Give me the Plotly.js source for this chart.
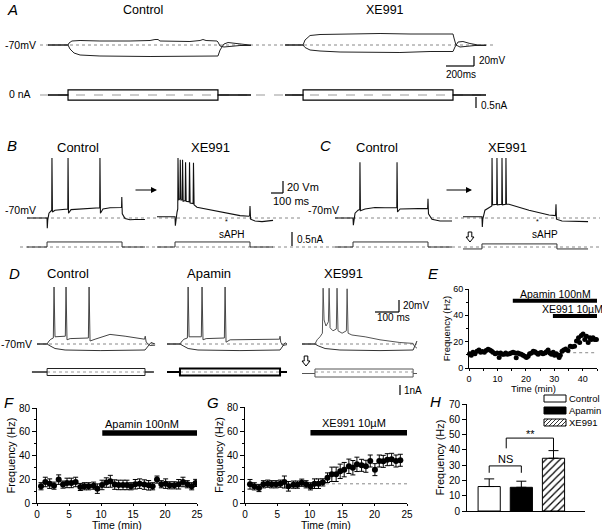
<!DOCTYPE html>
<html><head><meta charset="utf-8">
<script src="https://cdn.plot.ly/plotly-3.0.1.min.js"></script>
<style>html,body{margin:0;padding:0;background:#fff}#chart{width:602px;height:530px}</style>
</head><body><div id="chart"></div>
<script>
// ---------------- DATA ----------------
// Panel A (time in ms from sweep start, membrane potential in mV, current in nA)
const aCtrlUpT = [0,143,150,171,229,371,586,729,764,786,800,1014,1086,1107,1129,1207,1214,1229,1257,1300,1371,1450];
const aCtrlUpV = [-70,-70,-66,-62,-61,-62,-62,-61,-59,-59,-62,-63,-61,-59,-61,-62,-64,-72,-74,-73,-71,-71];
const aCtrlDnT = [0,143,157,186,229,371,729,1086,1214,1229,1257,1286,1336,1407,1450];
const aCtrlDnV = [-70,-70,-78,-86,-90,-92,-93,-93,-92,-80,-68,-65,-67,-69,-70];
const aXeUpT = [0,129,143,179,250,464,607,679,893,1200,1207,1221,1250,1293,1357,1436];
const aXeUpV = [-70,-70,-60,-51,-49,-48,-46,-47,-48,-48,-56,-70,-74,-73,-71,-71];
const aXeDnT = [0,129,143,179,250,393,821,1036,1200,1214,1236,1271,1321,1379,1436];
const aXeDnV = [-70,-70,-75,-80,-82,-84,-85,-83,-83,-74,-64,-63,-67,-70,-70];
const aCtrlIT = [0,143,143,1214,1214,1450];
const aXeIT = [0,129,129,1200,1200,1436];
const aIPos = [0,0,0.23,0.23,0,0];
const aINeg = [0,0,-0.23,-0.23,0,0];

// Panel B
const bCtrlT = [0,167,169,173,183,200,206,208,212,233,333,340,342,346,367,483,600,606,608,612,633,692,783,788,790,794,817,858,900,983];
const bCtrlV = [-70,-70,-87,-73,-62,-57.5,-57,30,-60,-57,-55,-55,30,-62,-56,-54,-53,-53,30,-62,-55,-53,-52.5,-52,-35,-63,-71,-73,-72.5,-72.5];
const bXeT = [0,150,153,157,167,173,175,180,191,194,199,210,213,218,235,238,243,268,271,276,301,304,309,333,358,442,525,608,692,767,772,775,780,817,875,967];
const bXeV = [-68,-68,-83,-72,-60,-55,30,-40,-38,27,-40,-40,27,-42,-41,23,-42,-43,23,-45,-46,22,-48,-52,-53,-56,-60,-63,-66,-67,-66,-50,-72,-75,-76,-74];
const bCtrlIT = [0,167,167,792,792,983];
const bXeIT = [0,150,150,775,775,967];
const bcIStep = [0,0,0.18,0.18,0,0];

// Panel C
const cCtrlT = [0,150,153,157,167,192,206,208,212,250,333,417,515,517,521,542,625,767,772,775,779,808,875,975];
const cCtrlV = [-70,-70,-82,-72,-62,-57,-56,23,-58,-55,-52.5,-53,-53,23,-60,-55,-55,-54,-54,-38,-63,-72,-75,-75];
const cXeT = [0,158,161,165,183,225,240,242,246,281,283,287,323,325,329,356,358,362,383,550,717,771,775,779,825,933,1042];
const cXeV = [-68,-68,-85,-72,-57,-52,-50,30,-48,-47,30,-48,-47,30,-48,-47,30,-47,-47,-57,-65,-66,-47,-72,-75,-75,-76];
const cCtrlIT = [0,150,150,775,775,975];
const cXeIT = [0,158,158,783,783,1042];
const cXeIV = [-0.07,-0.07,0.11,0.11,-0.07,-0.07];

// Panel D
const dCtrlUpT = [0,42,50,58,68,71,75,96,118,121,125,138,214,217,221,242,304,367,429,448,451,455,471,492];
const dCtrlUpV = [-70,-70,-65,-62,-60,25,-58,-57.5,-57,25,-63,-61,-60,25,-65,-62,-54,-57,-61,-62,-57,-67,-72.5,-72];
const dCtrlDnT = [0,42,54,75,117,263,450,467,475,492];
const dCtrlDnV = [-70,-70,-73,-77.5,-80,-81,-80,-72,-67.5,-70];
const dApaUpT = [0,54,63,71,85,88,92,117,143,146,150,163,239,242,246,263,346,469,471,474,483,500];
const dApaUpV = [-70,-70,-65,-62,-60,25,-58,-58,-58,25,-63,-61,-60,25,-67,-63,-62.5,-62,-57,-67,-72.5,-71];
const dApaDnT = [0,54,67,88,129,304,471,483,492,500];
const dApaDnV = [-70,-70,-73,-77.5,-80,-81,-80,-72,-68,-70];
const dXeUpT = [0,54,63,75,85,88,92,100,110,113,117,129,143,146,150,167,185,188,192,208,263,325,408,463,467,479];
const dXeUpV = [-70,-70,-63,-58,-52,23,-30,-40,-33,23,-43,-48,-45,23,-48,-52,-48,22,-52,-55,-58,-63,-67.5,-69,-73,-77];
const dXeDnT = [0,54,67,96,158,325,463,471,479];
const dXeDnV = [-70,-70,-73,-77.5,-80,-81,-80,-72,-65];
const dCtrlIT = [-21,42,42,450,450,487];
const dApaIT = [0,54,54,471,471,500];
const dXeIT = [0,54,54,463,463,479];
const dIPos = [0,0,0.35,0.35,0,0];
const dINeg = [0,0,-0.35,-0.35,0,0];
const dXeIPos = [-0.15,-0.15,0.3,0.3,-0.15,-0.15];
const dXeINeg = [-0.15,-0.15,-0.5,-0.5,-0.15,-0.15];

// Panel E (time in min, firing frequency in Hz)
const eTime = [0.2,0.8,1.4,2.1,2.8,3.5,4.1,4.7,5.4,6.0,6.7,7.3,7.9,8.4,9.2,9.9,10.6,11.1,11.7,12.3,12.9,13.5,14.2,14.8,15.5,16.2,16.6,17.2,17.8,18.4,19.0,19.6,20.2,20.8,21.3,22.0,22.6,23.2,23.7,24.3,24.9,25.4,26.0,26.7,27.2,27.8,28.4,29.0,29.6,30.1,30.7,31.3,31.7,32.1,32.7,33.3,34.0,34.8,35.6,36.3,37.1,37.8,38.5,38.9,39.5,40.1,40.7,41.3,41.9,42.5,43.0,43.6,44.2,44.8];
const eFreq = [10.8,9.6,12,10.8,12.8,13.7,12,12.5,12,13.3,14.2,13.7,13,12,10.8,11.3,8,11.3,10.4,10.4,11.3,10.4,10.8,11.3,12,11.3,7.7,11.3,10.8,10.4,9.6,8.9,8,8.9,10.8,11.3,12.8,12.3,11.3,10.4,11.3,11.8,10.8,11.3,12.3,13.7,11.3,10.4,12,9.6,10.8,9.6,8,9.6,12.8,13.7,14.5,13.3,16.6,16.1,16.6,20.5,22.9,19.3,24.6,25.8,21.7,24.1,19.3,22.9,21.7,22.9,21.7,21.7];
const eApaT = [15.4,45], eApaY = [51,51];
const eXeT = [29.5,45], eXeY = [39.5,39.5];
const eBaseT = [32.4,45], eBaseY = [11.6,11.6];

// Panel F
const fTime = [0.63,1.30,1.98,2.66,3.39,4.06,4.69,5.36,6.04,6.77,7.40,8.07,8.85,9.43,10.16,10.83,11.46,12.14,12.76,13.44,14.06,14.69,15.36,16.04,16.77,17.45,18.07,18.75,19.43,20.10,20.73,21.46,22.14,22.81,23.49,24.17,24.79];
const fFreq = [14.1,17.7,16.3,14.6,19.7,15.5,16.9,16.9,17.7,13.5,14.1,14.1,14.6,12.1,15.2,17.2,18.3,15.5,15.2,15.2,15.2,14.1,15.8,16.3,15.5,14.9,14.1,19.7,15.8,16.3,14.9,14.9,15.8,17.7,15.8,14.1,16.9];
const fErr = [3,4,4,3,4,3,4,4,4,3,3,3,3,4,4,4,5,4,4,4,4,3,4,4,4,4,3,3,3,4,3,3,4,4,3,3,3];
const fApaT = [10.2,25], fApaY = [59,59];

// Panel G
const gTime = [0.77,1.44,2.16,2.84,3.51,4.12,4.79,5.46,6.08,6.70,7.47,8.09,8.76,9.43,10.10,10.72,11.34,12.01,12.73,13.40,14.07,14.69,15.31,16.03,16.65,17.27,17.99,18.66,19.33,20.05,20.72,21.34,21.96,22.63,23.30,23.97];
const gFreq = [15.6,13.9,12.5,15.6,16.1,15.6,15.6,16.1,17.5,13.9,15.3,15.3,16.9,15.6,13.9,16.1,16.1,17.2,21.1,23.9,23.9,26.4,27.8,30.6,29.4,32.2,31.4,30.6,35,27.8,35,34.7,36.1,36.4,35,35.6];
const gErr = [4,3,3,3,3,3,3,3,5,4,3,3,3,3,3,4,4,3,4,6,6,6,6,6,6,6,5,5,5,5,5,5,5,5,5,5];
const gXeT = [10.1,25], gXeY = [58.5,58.5];
const gBaseT = [12.5,25], gBaseY = [16,16];

// Panel H
const hGroups = ['Control','Apamin','XE991'];
const hMean = [16,15.5,34.5];
const hErr = [5,4,5];
const hNsX = [0,0,1,1], hNsY = [25,29.5,29.5,25];
const hStarX = [0.53,0.53,2,2], hStarY = [41,47.7,47.7,39.5];

// ---------------- LAYOUT HELPERS ----------------
const W = 602, H = 530;
const FONT = 'Liberation Sans, Arial, Helvetica, sans-serif';
const X = p => p / W, Y = p => 1 - p / H;
function colX(x0, s, a, b) { return {domain:[X(a),X(b)], range:[(a-x0)/s,(b-x0)/s], visible:false, fixedrange:true, anchor:'free', position:0}; }
function rowY(y0, base, s, top, bot) { return {domain:[Y(bot),Y(top)], range:[base-(bot-y0)/s, base+(y0-top)/s], visible:false, fixedrange:true, anchor:'free', position:0}; }

const traces = [];
function line(x, y, xa, ya, color, width, extra) {
  traces.push(Object.assign({type:'scatter', mode:'lines', x:x, y:y, xaxis:xa, yaxis:ya,
    line:{color:color, width:width}, hoverinfo:'skip', showlegend:false}, extra||{}));
}
const TR = '#111';
// A
line(aCtrlUpT, aCtrlUpV, 'x', 'y', '#222', 1);
line(aCtrlDnT, aCtrlDnV, 'x', 'y', '#222', 1);
line(aXeUpT, aXeUpV, 'x2', 'y', '#222', 1);
line(aXeDnT, aXeDnV, 'x2', 'y', '#222', 1);
line(aCtrlIT, aIPos, 'x', 'y2', '#000', 1.2);
line(aCtrlIT, aINeg, 'x', 'y2', '#000', 1.2);
line(aXeIT, aIPos, 'x2', 'y2', '#000', 1.2);
line(aXeIT, aINeg, 'x2', 'y2', '#000', 1.2);
// B
line(bCtrlT, bCtrlV, 'x3', 'y3', TR, 1.1);
line(bXeT, bXeV, 'x4', 'y3', TR, 1.1);
line(bCtrlIT, bcIStep, 'x3', 'y4', '#333', 1);
line(bXeIT, bcIStep, 'x4', 'y4', '#333', 1);
// C
line(cCtrlT, cCtrlV, 'x5', 'y3', TR, 1.1);
line(cXeT, cXeV, 'x6', 'y3', TR, 1.1);
line(cCtrlIT, bcIStep, 'x5', 'y4', '#333', 1);
line(cXeIT, cXeIV, 'x6', 'y4', '#333', 1);
// D
line(dCtrlUpT, dCtrlUpV, 'x7', 'y5', '#444', 1);
line(dCtrlDnT, dCtrlDnV, 'x7', 'y5', '#333', 1);
line(dApaUpT, dApaUpV, 'x8', 'y5', '#444', 1);
line(dApaDnT, dApaDnV, 'x8', 'y5', '#333', 1);
line(dXeUpT, dXeUpV, 'x9', 'y5', '#555', 1);
line(dXeDnT, dXeDnV, 'x9', 'y5', '#333', 1);
line(dCtrlIT, dIPos, 'x7', 'y6', '#222', 1);
line(dCtrlIT, dINeg, 'x7', 'y6', '#222', 1);
line(dApaIT, dIPos, 'x8', 'y6', '#000', 2);
line(dApaIT, dINeg, 'x8', 'y6', '#000', 2);
line(dXeIT, dXeIPos, 'x9', 'y6', '#555', 1);
line(dXeIT, dXeINeg, 'x9', 'y6', '#555', 1);
// E
line(eBaseT, eBaseY, 'x10', 'y7', '#888', 1, {line:{color:'#888', width:1, dash:'dot'}});
line(eApaT, eApaY, 'x10', 'y7', '#000', 4);
line(eXeT, eXeY, 'x10', 'y7', '#000', 4);
traces.push({type:'scatter', mode:'markers', x:eTime, y:eFreq, xaxis:'x10', yaxis:'y7',
  marker:{color:'#000', size:5}, hoverinfo:'skip', showlegend:false, cliponaxis:false});
// F
line(fApaT, fApaY, 'x11', 'y8', '#000', 5.5);
traces.push({type:'scatter', mode:'markers', x:fTime, y:fFreq, xaxis:'x11', yaxis:'y8',
  marker:{color:'#000', size:6}, error_y:{type:'data', array:fErr, visible:true, color:'#000', thickness:1, width:2.5},
  hoverinfo:'skip', showlegend:false});
// G
line(gBaseT, gBaseY, 'x12', 'y9', '#888', 1, {line:{color:'#888', width:1, dash:'dot'}});
line(gXeT, gXeY, 'x12', 'y9', '#000', 5.5);
traces.push({type:'scatter', mode:'markers', x:gTime, y:gFreq, xaxis:'x12', yaxis:'y9',
  marker:{color:'#000', size:6}, error_y:{type:'data', array:gErr, visible:true, color:'#000', thickness:1, width:2.5},
  hoverinfo:'skip', showlegend:false});
// H
const hColors = ['#fff','#000','#fff'];
hGroups.forEach((g, i) => {
  const mk = {color:hColors[i], line:{color:'#000', width:1}};
  if (i === 2) mk.pattern = {shape:'/', fgcolor:'#000', bgcolor:'#fff', size:5, solidity:0.25};
  traces.push({type:'bar', x:[i], y:[hMean[i]], name:g, xaxis:'x13', yaxis:'y10', width:0.69,
    marker:mk, error_y:{type:'data', symmetric:false, array:[hErr[i]], arrayminus:[0], visible:true, color:'#000', thickness:1, width:5},
    hoverinfo:'skip', showlegend:false});
});
line(hNsX, hNsY, 'x13', 'y10', '#000', 1);
line(hStarX, hStarY, 'x13', 'y10', '#000', 1);

// ---------------- AXES ----------------
const tf = {family:FONT, size:10, color:'#000'};
const tfs = {family:FONT, size:9, color:'#000'};
function visAxis(extra) {
  return Object.assign({showline:true, linecolor:'#000', linewidth:1, ticks:'outside', ticklen:4, tickwidth:1,
    tickcolor:'#000', tickfont:tf, showgrid:false, zeroline:false, fixedrange:true}, extra);
}
const layout = {
  width:W, height:H, margin:{l:0,r:0,t:0,b:0}, paper_bgcolor:'#fff', plot_bgcolor:'rgba(0,0,0,0)',
  showlegend:false, font:{family:FONT, color:'#000'}, barmode:'overlay',
  xaxis: colX(48, 0.14, 40, 262),
  xaxis2: colX(285, 0.14, 278, 498),
  xaxis3: colX(27, 0.12, 20, 150),
  xaxis4: colX(157, 0.12, 150, 300),
  xaxis5: colX(335, 0.12, 326, 458),
  xaxis6: colX(463, 0.12, 458, 600),
  xaxis7: colX(37, 0.24, 26, 160),
  xaxis8: colX(167, 0.24, 160, 295),
  xaxis9: colX(302, 0.24, 295, 425),
  yaxis: rowY(45, -70, 0.5, 25, 78),
  yaxis2: rowY(95, 0, 22, 82, 110),
  yaxis3: rowY(218, -70, 0.6, 150, 232),
  yaxis4: rowY(247, 0, 28, 232, 258),
  yaxis5: rowY(344, -70, 0.6, 278, 358),
  yaxis6: rowY(372, 0, 10, 358, 398),
  xaxis10: visAxis({domain:[X(469),X(597)], range:[0,45], anchor:'y7', dtick:10, tick0:0, ticklen:2, tickfont:tfs,
    minor:{ticks:'outside', ticklen:2, dtick:5, tickcolor:'#000'}}),
  yaxis7: visAxis({domain:[Y(368),Y(289)], range:[0,60], anchor:'x10', dtick:20, tick0:0, ticklen:3, tickfont:tfs,
    minor:{ticks:'outside', ticklen:2, dtick:10, tickcolor:'#000'},
    title:{text:'Frequency (Hz)', font:{family:FONT, size:9.5}, standoff:0}}),
  xaxis11: visAxis({domain:[X(37),X(197)], range:[0,25], anchor:'y8', dtick:5, tick0:0, ticklen:2}),
  yaxis8: visAxis({domain:[Y(503),Y(408)], range:[0,80], anchor:'x11', dtick:20, tick0:0,
    minor:{ticks:'outside', ticklen:2, dtick:10, tickcolor:'#000'},
    title:{text:'Frequency (Hz)', font:{family:FONT, size:11}, standoff:1}}),
  xaxis12: visAxis({domain:[X(245),X(407)], range:[0,25], anchor:'y9', dtick:5, tick0:0, ticklen:2}),
  yaxis9: visAxis({domain:[Y(503),Y(407)], range:[0,80], anchor:'x12', dtick:20, tick0:0,
    minor:{ticks:'outside', ticklen:2, dtick:10, tickcolor:'#000'},
    title:{text:'Frequency (Hz)', font:{family:FONT, size:11}, standoff:1}}),
  xaxis13: visAxis({domain:[X(467),X(585)], range:[-0.69,2.98], anchor:'y10', ticks:'', showticklabels:false}),
  yaxis10: visAxis({domain:[Y(511),Y(404)], range:[0,70], anchor:'x13', dtick:10, tick0:0,
    title:{text:'Frequency (Hz)', font:{family:FONT, size:11}, standoff:2}}),
};

// ---------------- SHAPES (reference lines, scale bars, legend) ----------------
const shapes = [];
function seg(x0, y0, x1, y1, color, width, dash) {
  shapes.push({type:'line', xref:'paper', yref:'paper', x0:X(x0), y0:Y(y0), x1:X(x1), y1:Y(y1),
    line:{color:color, width:width, dash:dash||'solid'}, layer:'below'});
}
// -70 mV and 0 nA reference lines
seg(40, 45, 495, 45, '#888', 1, 'dot');
seg(40, 95, 490, 95, '#999', 1.2, 'dash');
seg(27, 218, 300, 218, '#888', 1, 'dot');
seg(335, 218, 600, 218, '#888', 1, 'dot');
seg(20, 247, 600, 247, '#888', 1, 'dot');
seg(37, 344, 155, 344, '#888', 1, 'dot');
seg(167, 344, 287, 344, '#888', 1, 'dot');
seg(302, 344, 417, 344, '#888', 1, 'dot');
seg(47, 372, 145, 372, '#999', 1, 'dot');
seg(180, 372, 280, 372, '#999', 1, 'dot');
seg(315, 372, 413, 372, '#999', 1, 'dot');
// scale bars (lengths from the panel scales)
function sbar(xr, yb, hLen, vLen) { seg(xr - hLen, yb, xr, yb, '#000', 1.2); seg(xr, yb - vLen, xr, yb, '#000', 1.2); }
sbar(474, 66, 200*0.14, 20*0.5);          // A: 200 ms, 20 mV
seg(476, 97, 476, 97 + 0.5*22, '#000', 1.2); // A: 0.5 nA
sbar(283, 193, 100*0.12, 20*0.6);          // B: 100 ms, 20 mV
seg(292, 232, 292, 232 + 0.5*28, '#000', 1.2); // B: 0.5 nA
sbar(399, 312, 100*0.24, 20*0.6);          // D: 100 ms, 20 mV
seg(400, 385, 400, 385 + 1*10, '#000', 1.2);   // D: 1 nA
// hollow down arrows (holding-current change)
function hollowDown(cx, top) {
  const p = [[cx-1.8,top],[cx+1.8,top],[cx+1.8,top+5],[cx+4,top+5],[cx,top+10],[cx-4,top+5],[cx-1.8,top+5]];
  shapes.push({type:'path', xref:'paper', yref:'paper', fillcolor:'#fff', line:{color:'#000', width:1},
    path:'M' + p.map(q => X(q[0]) + ',' + Y(q[1])).join('L') + 'Z'});
}
hollowDown(470, 232);
hollowDown(306, 356);
// H legend swatches
function rect(x0, y0, x1, y1, fill) {
  shapes.push({type:'rect', xref:'paper', yref:'paper', x0:X(x0), y0:Y(y1), x1:X(x1), y1:Y(y0),
    fillcolor:fill, line:{color:'#000', width:1}});
}
rect(544, 395, 566, 402, '#fff');
rect(544, 407, 566, 414, '#000');
rect(544, 419, 566, 426, '#fff');
(function hatch(x0, y0, x1, y1, gap) {
  let d = ''; const h = y1 - y0;
  for (let s = x0 - h; s < x1; s += gap) {
    let sx = s, sy = y1, ex = s + h, ey = y0;
    if (sx < x0) { sy = y1 - (x0 - sx); sx = x0; }
    if (ex > x1) { ey = y0 + (ex - x1); ex = x1; }
    if (ex <= sx) continue;
    d += 'M' + X(sx) + ',' + Y(sy) + 'L' + X(ex) + ',' + Y(ey);
  }
  shapes.push({type:'path', xref:'paper', yref:'paper', path:d, line:{color:'#000', width:0.8}});
})(544, 419, 566, 426, 4);
layout.shapes = shapes;

// ---------------- TEXT ----------------
const anns = [];
function txt(t, x, y, size, opts) {
  anns.push(Object.assign({text:t, x:X(x), y:Y(y), xref:'paper', yref:'paper', showarrow:false,
    xanchor:'center', yanchor:'middle', font:{family:FONT, size:size, color:'#000'}}, opts||{}));
}
function panel(t, x, y) { txt('<i>' + t + '</i>', x, y, 15); }
panel('A', 12, 10); panel('B', 12, 146); panel('C', 325, 146); panel('D', 14, 273);
panel('E', 433, 273); panel('F', 9, 402); panel('G', 213, 402); panel('H', 435, 401);
txt('Control', 143, 10, 12.5); txt('XE991', 385, 10, 12.5);
txt('-70mV', 38, 45, 10.5, {xanchor:'right'});
txt('0 nA', 33, 94, 10.5, {xanchor:'right'});
txt('20mV', 477, 61, 10, {xanchor:'left'});
txt('200ms', 461, 75, 10);
txt('0.5nA', 479, 106, 10, {xanchor:'left'});
txt('Control', 78, 147, 13); txt('XE991', 210, 147, 13);
txt('Control', 377, 147, 13); txt('XE991', 507, 147, 13);
txt('-70mV', 38, 210, 10.5, {xanchor:'right'});
txt('-70mV', 341, 210, 10.5, {xanchor:'right'});
txt('20 Vm', 285, 187, 11, {xanchor:'left'});
txt('100 ms', 271, 201, 11, {xanchor:'left'});
txt('0.5nA', 295, 239, 10, {xanchor:'left'});
txt('sAPH', 232, 234, 10); txt('sAHP', 545, 234, 10);
txt('*', 226, 221, 7); txt('*', 537, 221, 7);
txt('Control', 68, 273, 13); txt('Apamin', 209, 273, 13); txt('XE991', 343, 273, 13);
txt('-70mV', 34, 344, 10.5, {xanchor:'right'});
txt('20mV', 401, 305, 10, {xanchor:'left'});
txt('100 ms', 375, 317, 10, {xanchor:'left'});
txt('1nA', 402, 390, 10, {xanchor:'left'});
txt('Apamin 100nM', 555, 294, 10.5); txt('XE991 10\u00B5M', 572, 309, 10.5);
txt('Apamin 100nM', 142, 424, 11); txt('XE991 10\u00B5M', 354, 423, 11);
txt('NS', 505, 459, 11); txt('**', 530, 434, 11);
txt('Control', 567, 398.5, 9.5, {xanchor:'left'});
txt('Apamin', 567, 410.5, 9.5, {xanchor:'left'});
txt('XE991', 567, 422.5, 9.5, {xanchor:'left'});
// x-axis titles of E, F, G
txt('Time (min)', 533, 388.5, 9.5);
txt('Time (min)', 117, 524.5, 10.5);
txt('Time (min)', 326, 524.5, 10.5);
// arrows in B and C
function arrow(x0, x1, y) {
  anns.push({x:X(x1), y:Y(y), xref:'paper', yref:'paper', ax:x0 - x1, ay:0, text:'', showarrow:true,
    arrowhead:2, arrowsize:1, arrowwidth:1.2, arrowcolor:'#000'});
}
arrow(134, 157, 190); arrow(445, 472, 190);
layout.annotations = anns;

Plotly.newPlot('chart', traces, layout, {staticPlot:true, displayModeBar:false});
</script></body></html>
